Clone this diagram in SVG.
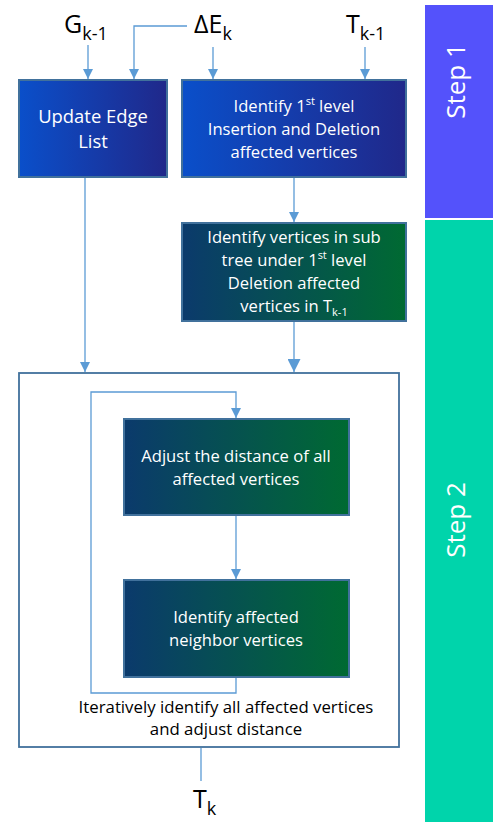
<svg xmlns="http://www.w3.org/2000/svg" width="493" height="822" viewBox="0 0 493 822">
<defs>
<linearGradient id="gBlue" x1="0" y1="0" x2="1" y2="0">
<stop offset="0" stop-color="#0a4fca"/>
<stop offset="1" stop-color="#20288a"/>
</linearGradient>
<linearGradient id="gGreen" x1="0" y1="0" x2="1" y2="0">
<stop offset="0" stop-color="#0b3a6c"/>
<stop offset="1" stop-color="#006a32"/>
</linearGradient>
<marker id="ah" viewBox="0 0 10 10" refX="10" refY="5" markerWidth="10" markerHeight="10" markerUnits="userSpaceOnUse" orient="auto">
<path d="M0,0 L10,5 L0,10 z" fill="#5b9bd5"/>
</marker>
<marker id="ahL" viewBox="0 0 10 10" refX="10" refY="5" markerWidth="13" markerHeight="13" markerUnits="userSpaceOnUse" orient="auto">
<path d="M0,0 L10,5 L0,10 z" fill="#5b9bd5"/>
</marker>
</defs>
<style>
.box{stroke:#41719c;stroke-width:2}
.wt{fill:#ffffff;font-family:"Open Sans","Noto Sans",sans-serif;text-anchor:middle}
.bt{fill:#000000;font-family:"Open Sans","Noto Sans",sans-serif;text-anchor:middle}
.lbl{fill:#000000;font-family:"Open Sans","Noto Sans",sans-serif;font-size:25px}
.sub{font-size:18px}
.sup{font-size:11px}
.con{fill:none;stroke:#5b9bd5;stroke-width:1.3}
.step{fill:#ffffff;font-family:"Open Sans","Noto Sans",sans-serif;font-size:26px;text-anchor:middle}
</style>
<rect width="493" height="822" fill="#ffffff"/>

<g id="step1">
<rect x="425" y="5" width="68" height="213" fill="#5452fb"/>
<text class="step" transform="translate(465,81) rotate(-90)">Step 1</text>
</g>
<g id="step2">
<rect x="425" y="220" width="68" height="602" fill="#00d4ab"/>
<text class="step" transform="translate(465,520) rotate(-90)">Step 2</text>
</g>

<g id="label-g">
<text class="lbl" x="64" y="33">G<tspan class="sub" dy="7">k-1</tspan></text>
</g>
<g id="label-de">
<text class="lbl" x="194" y="33">ΔE<tspan class="sub" dy="7">k</tspan></text>
</g>
<g id="label-t">
<text class="lbl" x="346" y="33">T<tspan class="sub" dy="7">k-1</tspan></text>
</g>
<g id="label-tk">
<text class="lbl" x="193" y="808">T<tspan class="sub" dy="7">k</tspan></text>
</g>

<g id="container">
<rect x="19" y="373" width="380" height="374" fill="#ffffff" stroke="#41719c" stroke-width="1.8"/>
<text class="bt" x="226" y="713" style="font-size:16.8px">Iteratively identify all affected vertices</text>
<text class="bt" x="226" y="735" style="font-size:16.8px">and adjust distance</text>
</g>

<g id="update-edge">
<rect class="box" x="19" y="80" width="148" height="97" fill="url(#gBlue)"/>
<text class="wt" x="93" y="123" style="font-size:18.4px">Update Edge</text>
<text class="wt" x="93" y="148" style="font-size:18.4px">List</text>
</g>

<g id="identify-first">
<rect class="box" x="182" y="80" width="224" height="97" fill="url(#gBlue)"/>
<text class="wt" x="294" y="112" style="font-size:16.6px">Identify 1<tspan class="sup" dy="-7">st</tspan><tspan dy="7"> level</tspan></text>
<text class="wt" x="294" y="135" style="font-size:16.6px">Insertion and Deletion</text>
<text class="wt" x="294" y="158" style="font-size:16.6px">affected vertices</text>
</g>

<g id="identify-subtree">
<rect class="box" x="182" y="223" width="224" height="98" fill="url(#gGreen)"/>
<text class="wt" x="294" y="243" style="font-size:16.6px">Identify vertices in sub</text>
<text class="wt" x="294" y="266" style="font-size:16.6px">tree under 1<tspan class="sup" dy="-7">st</tspan><tspan dy="7"> level</tspan></text>
<text class="wt" x="294" y="289" style="font-size:16.6px">Deletion affected</text>
<text class="wt" x="294" y="312" style="font-size:16.6px">vertices in  T<tspan class="sup" dy="4">k-1</tspan></text>
</g>

<g id="adjust">
<rect class="box" x="124" y="419" width="225" height="96" fill="url(#gGreen)"/>
<text class="wt" x="236" y="462" style="font-size:16.6px">Adjust the distance of all</text>
<text class="wt" x="236" y="485" style="font-size:16.6px">affected vertices</text>
</g>

<g id="neighbor">
<rect class="box" x="124" y="580" width="225" height="97" fill="url(#gGreen)"/>
<text class="wt" x="236" y="623" style="font-size:16.6px">Identify affected</text>
<text class="wt" x="236" y="646" style="font-size:16.6px">neighbor vertices</text>
</g>

<g id="connectors">
<line class="con" x1="88" y1="45" x2="88" y2="79" marker-end="url(#ah)"/>
<polyline class="con" points="187,26 134,26 134,79" marker-end="url(#ah)"/>
<line class="con" x1="213" y1="47" x2="213" y2="79" marker-end="url(#ah)"/>
<line class="con" x1="365" y1="47" x2="365" y2="79" marker-end="url(#ah)"/>
<line class="con" x1="85" y1="178" x2="85" y2="372" marker-end="url(#ah)"/>
<line class="con" x1="294" y1="178" x2="294" y2="222" marker-end="url(#ah)"/>
<line class="con" x1="294" y1="322" x2="294" y2="372" marker-end="url(#ahL)"/>
<line class="con" x1="236" y1="516" x2="236" y2="579" marker-end="url(#ah)"/>
<polyline class="con" points="236,678 236,693 91,693 91,392 236,392 236,418" marker-end="url(#ah)"/>
<line class="con" x1="201" y1="748" x2="201" y2="781"/>
</g>
</svg>
